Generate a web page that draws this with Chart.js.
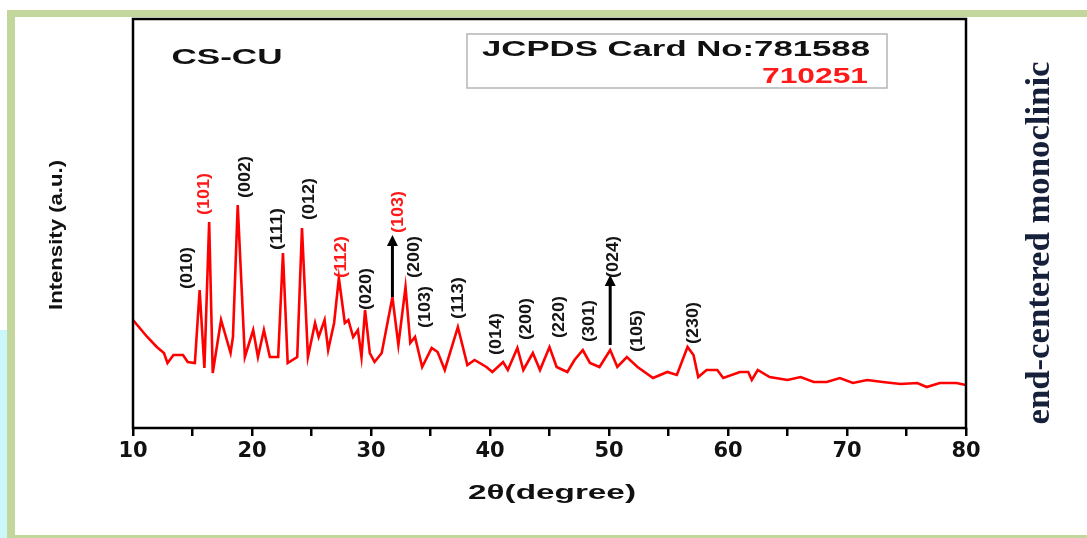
<!DOCTYPE html>
<html>
<head>
<meta charset="utf-8">
<script src="https://cdn.jsdelivr.net/npm/chart.js@4"></script>
<style>
  html, body { margin: 0; padding: 0; background: #fff; }
  #wrap { position: relative; width: 1087px; height: 538px; overflow: hidden; background: #fff; }
  #cyan { position: absolute; left: 0; top: 330px; width: 7px; height: 208px; background: #c9f7fa; }
  #frame { position: absolute; left: 7px; top: 10px; width: 1100px; height: 518px;
           border-left: 8px solid #c3d69b; border-top: 7px solid #c3d69b; border-bottom: 3px solid #c3d69b; background: #fff; }
  #box { position: absolute; left: 0; top: 0; width: 1087px; height: 538px; }
</style>
</head>
<body>
<div id="wrap">
  <div id="cyan"></div>
  <div id="frame"></div>
  <div id="box"><canvas id="xrd"></canvas></div>
</div>
<script>
// =========================================================================
// Data
// =========================================================================
const twoTheta = [
  10.0, 11.2, 12.0, 12.6, 12.9, 13.4, 14.2, 14.6, 15.2, 15.6, 16.0, 16.4, 16.7,
  17.4, 18.2, 18.4, 18.8, 19.4, 20.1, 20.5, 21.0, 21.5, 22.2, 22.6, 23.0, 23.8,
  24.2, 24.7, 25.3, 25.6, 26.1, 26.4, 26.9, 27.3, 27.8, 28.1, 28.5, 28.9, 29.2,
  29.5, 29.9, 30.3, 30.9, 31.8, 32.3, 32.9, 33.3, 33.7, 34.3, 35.1, 35.6, 36.2,
  37.3, 38.1, 38.7, 39.7, 40.2, 41.1, 41.5, 42.3, 42.8, 43.6, 44.2, 45.0, 45.6,
  46.5, 47.1, 47.8, 48.4, 49.2, 50.1, 50.7, 51.5, 52.4, 53.7, 54.9, 55.7, 56.6,
  57.1, 57.5, 58.2, 59.1, 59.6, 61.0, 61.7, 62.0, 62.5, 63.5, 65.0, 66.1, 67.2,
  68.3, 69.4, 70.5, 71.7, 73.0, 74.5, 75.9, 76.7, 77.8, 79.2, 80.0,
];
const intensity = [
  108, 91, 81, 75, 65, 73, 73, 66, 65, 138, 60, 206, 55,
  108, 75, 91, 223, 71, 98, 71, 98, 71, 71, 175, 65, 71,
  200, 71, 105, 91, 108, 78, 105, 150, 105, 108, 91, 98, 71,
  118, 75, 66, 75, 131, 83, 141, 85, 91, 61, 80, 76, 58,
  101, 63, 68, 61, 56, 66, 58, 80, 58, 75, 58, 81, 61,
  56, 68, 78, 65, 61, 78, 61, 71, 61, 50, 56, 53, 81,
  73, 51, 58, 58, 50, 56, 56, 48, 58, 51, 48, 51, 46,
  46, 50, 45, 48, 46, 44, 45, 41, 45, 45, 43,
];

// Miller index labels: text, centre position (2theta, intensity), colour
const hklText = ["(010)", "(101)", "(002)", "(111)", "(012)", "(112)", "(020)", "(103)", "(200)",
  "(103)", "(113)", "(014)", "(200)", "(220)", "(301)", "(024)", "(105)", "(230)"];
const hklX = [14.54, 15.97, 19.41, 22.10, 24.79, 27.48, 29.58, 32.27, 33.61,
  34.54, 37.31, 40.50, 43.03, 45.80, 48.32, 50.34, 52.35, 57.06];
const hklY = [160, 234, 251, 199, 229, 171, 139, 216, 171,
  121, 130, 94, 109, 111, 107, 171, 97, 105];
const hklRed = [false, true, false, false, false, true, false, true, false,
  false, false, false, false, false, false, false, false, false];

// Arrows marking peaks
const arrowX = [31.8, 50.1];
const arrowFrom = [131, 83];
const arrowTo = [193, 153];

const xTicks = [10, 20, 30, 40, 50, 60, 70, 80];

// =========================================================================
// Helpers
// =========================================================================
function fitText(ctx, text, x, y, font, color, width, angle) {
  ctx.save();
  ctx.font = font;
  ctx.fillStyle = color;
  ctx.translate(x, y);
  ctx.rotate(angle || 0);
  const w = ctx.measureText(text).width;
  if (width) ctx.scale(width / w, 1);
  ctx.textAlign = "center";
  ctx.textBaseline = "middle";
  ctx.fillText(text, 0, 0);
  ctx.restore();
}

const decor = {
  id: "decor",
  afterDatasetsDraw(chart) {
    const { ctx, chartArea: a, scales: { x, y } } = chart;
    // plot frame
    ctx.save();
    ctx.strokeStyle = "#000";
    ctx.lineWidth = 2.5;
    ctx.strokeRect(a.left, a.top, a.right - a.left, a.bottom - a.top);
    ctx.restore();

    // arrows
    ctx.save();
    ctx.strokeStyle = "#000";
    ctx.fillStyle = "#000";
    ctx.lineWidth = 3;
    arrowX.forEach((v, i) => {
      const px = x.getPixelForValue(v);
      const y0 = y.getPixelForValue(arrowFrom[i]);
      const y1 = y.getPixelForValue(arrowTo[i]);
      ctx.beginPath();
      ctx.moveTo(px, y0);
      ctx.lineTo(px, y1 + 9);
      ctx.stroke();
      ctx.beginPath();
      ctx.moveTo(px, y1);
      ctx.lineTo(px - 5.5, y1 + 11);
      ctx.lineTo(px + 5.5, y1 + 11);
      ctx.closePath();
      ctx.fill();
    });
    ctx.restore();

    // hkl labels
    hklText.forEach((t, i) => {
      fitText(ctx, t, x.getPixelForValue(hklX[i]), y.getPixelForValue(hklY[i]),
        "bold 17px 'Liberation Sans', Arial, sans-serif", hklRed[i] ? "#ff1a1a" : "#151515",
        42, -Math.PI / 2);
    });
  },
  afterDraw(chart) {
    const ctx = chart.ctx;
    // sample name
    fitText(ctx, "CS-CU", 227, 58, "bold 22px 'Liberation Sans', Arial, sans-serif", "#111", 111);
    // card box
    ctx.save();
    ctx.strokeStyle = "#b5b5b5";
    ctx.lineWidth = 1.5;
    ctx.strokeRect(467, 34, 420, 54);
    ctx.restore();
    fitText(ctx, "JCPDS Card No:781588", 676, 50, "bold 22px 'Liberation Sans', Arial, sans-serif", "#111", 388);
    fitText(ctx, "710251", 815, 77, "bold 22px 'Liberation Sans', Arial, sans-serif", "#ff1a1a", 106);
    // axis titles
    fitText(ctx, "2\u03B8(degree)", 552, 493, "bold 21px 'Liberation Sans', Arial, sans-serif", "#111", 168);
    fitText(ctx, "Intensity (a.u.)", 57, 235, "bold 18px 'Liberation Sans', Arial, sans-serif", "#111", 150, -Math.PI / 2);
    // crystal system
    fitText(ctx, "end-centered monoclinic", 1040, 243, "bold 34px 'Liberation Serif', 'Times New Roman', serif", "#17203a", 363, -Math.PI / 2);
  },
};

// =========================================================================
// Chart
// =========================================================================
new Chart(document.getElementById("xrd"), {
  type: "line",
  data: {
    datasets: [
      {
        label: "CS-CU",
        data: twoTheta.map((t, i) => ({ x: t, y: intensity[i] })),
        borderColor: "#ff0000",
        borderWidth: 2.6,
        pointRadius: 0,
        tension: 0,
        fill: false,
      },
    ],
  },
  options: {
    responsive: true,
    maintainAspectRatio: false,
    animation: false,
    layout: { padding: { left: 133, right: 121, top: 19, bottom: 0 } },
    plugins: {
      legend: { display: false },
      tooltip: { enabled: false },
    },
    scales: {
      x: {
        type: "linear",
        min: 10,
        max: 80,
        afterFit(scale) { scale.height = 110; },
        border: { display: false },
        grid: {
          display: true,
          drawOnChartArea: false,
          drawTicks: true,
          tickLength: 8,
          color: "#000",
          lineWidth: 2.5,
        },
        ticks: {
          stepSize: 5,
          autoSkip: false,
          maxRotation: 0,
          padding: 3,
          color: "#111",
          font: { family: "'DejaVu Sans', sans-serif", weight: "bold", size: 21 },
          callback: (v) => (xTicks.includes(v) ? String(v) : ""),
        },
      },
      y: {
        display: false,
        min: 0,
        max: 409,
      },
    },
  },
  plugins: [decor],
});
</script>
</body>
</html>
